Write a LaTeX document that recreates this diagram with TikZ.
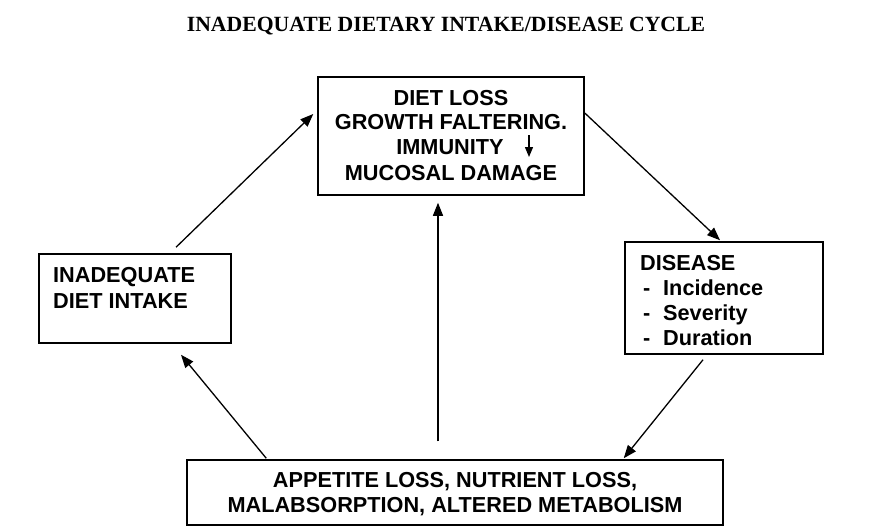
\documentclass[tikz,border=0pt]{standalone}
\usepackage{fontspec}
\setmainfont{Liberation Serif}
\newfontfamily\arialfont{Liberation Sans}
\usetikzlibrary{arrows.meta}
\tikzset{
  box/.style={draw=black, line width=1.5pt, rectangle, inner sep=0pt},
  lbl/.style={inner sep=0pt, font=\arialfont\bfseries\fontsize{21.7}{25}\selectfont},
  ttl/.style={inner sep=0pt, font=\bfseries\fontsize{21.7}{25}\selectfont},
  arr/.style={line width=1.3pt, -{Triangle[length=13pt,width=10pt]}},
  smallarr/.style={line width=1.3pt, -{Triangle[length=10pt,width=8pt]}}
}
\begin{document}
\begin{tikzpicture}[x=1pt,y=-1pt]
\useasboundingbox[fill=white] (0,0) rectangle (883,527);
% title
\node[ttl, anchor=base] (title) at (446,32) {INADEQUATE DIETARY INTAKE/DISEASE CYCLE};
% boxes
\node[box, minimum width=266pt, minimum height=118pt] (top) at (451,136) {};
\node[box, minimum width=198pt, minimum height=112pt] (dis) at (724,298) {};
\node[box, minimum width=192pt, minimum height=89pt] (inad) at (135,298.5) {};
\node[box, minimum width=536pt, minimum height=65pt] (bot) at (455,492.5) {};
% top box text
\node[lbl, anchor=base] (t1) at (451,105) {DIET LOSS};
\node[lbl, anchor=base] (t2) at (451,129) {GROWTH FALTERING.};
\node[lbl, anchor=base] (t3) at (450,154) {IMMUNITY};
\node[lbl, anchor=base] (t4) at (451,180) {MUCOSAL DAMAGE};
\coordinate (ia) at (529,135);
\coordinate (ib) at (529,157);
\draw[smallarr] (ia) -- (ib);
% disease text
\node[lbl, anchor=base west] (d0) at (640,270) {DISEASE};
\node[lbl, anchor=base west] (d1a) at (643,295) {-};
\node[lbl, anchor=base west] (d2a) at (643,320) {-};
\node[lbl, anchor=base west] (d3a) at (643,345) {-};
\node[lbl, anchor=base west] (d1) at (663,295) {Incidence};
\node[lbl, anchor=base west] (d2) at (663,320) {Severity};
\node[lbl, anchor=base west] (d3) at (663,345) {Duration};
% inadequate text
\node[lbl, anchor=base west] (i1) at (53,282) {INADEQUATE};
\node[lbl, anchor=base west] (i2) at (53,308) {DIET INTAKE};
% bottom text
\node[lbl, anchor=base] (b1) at (455,487) {APPETITE LOSS, NUTRIENT LOSS,};
\node[lbl, anchor=base] (b2) at (455,512) {MALABSORPTION, ALTERED METABOLISM};
% connectors
\draw[arr] ([xshift=41pt,yshift=6pt]inad.north) -- ([xshift=-4pt,yshift=22pt]top.west);
\draw[arr] ([yshift=23pt]top.east) -- ([xshift=-4pt,yshift=1pt]dis.north);
\draw[arr] ([xshift=-21pt,yshift=-5pt]dis.south) -- ([xshift=-100pt,yshift=1pt]bot.north east);
\draw[arr] ([xshift=80pt,yshift=1pt]bot.north west) -- ([xshift=46pt,yshift=-11pt]inad.south);
\draw[arr] ([xshift=-17pt,yshift=18pt]bot.north) -- ([xshift=-13pt,yshift=-7pt]top.south);
\end{tikzpicture}
\end{document}
